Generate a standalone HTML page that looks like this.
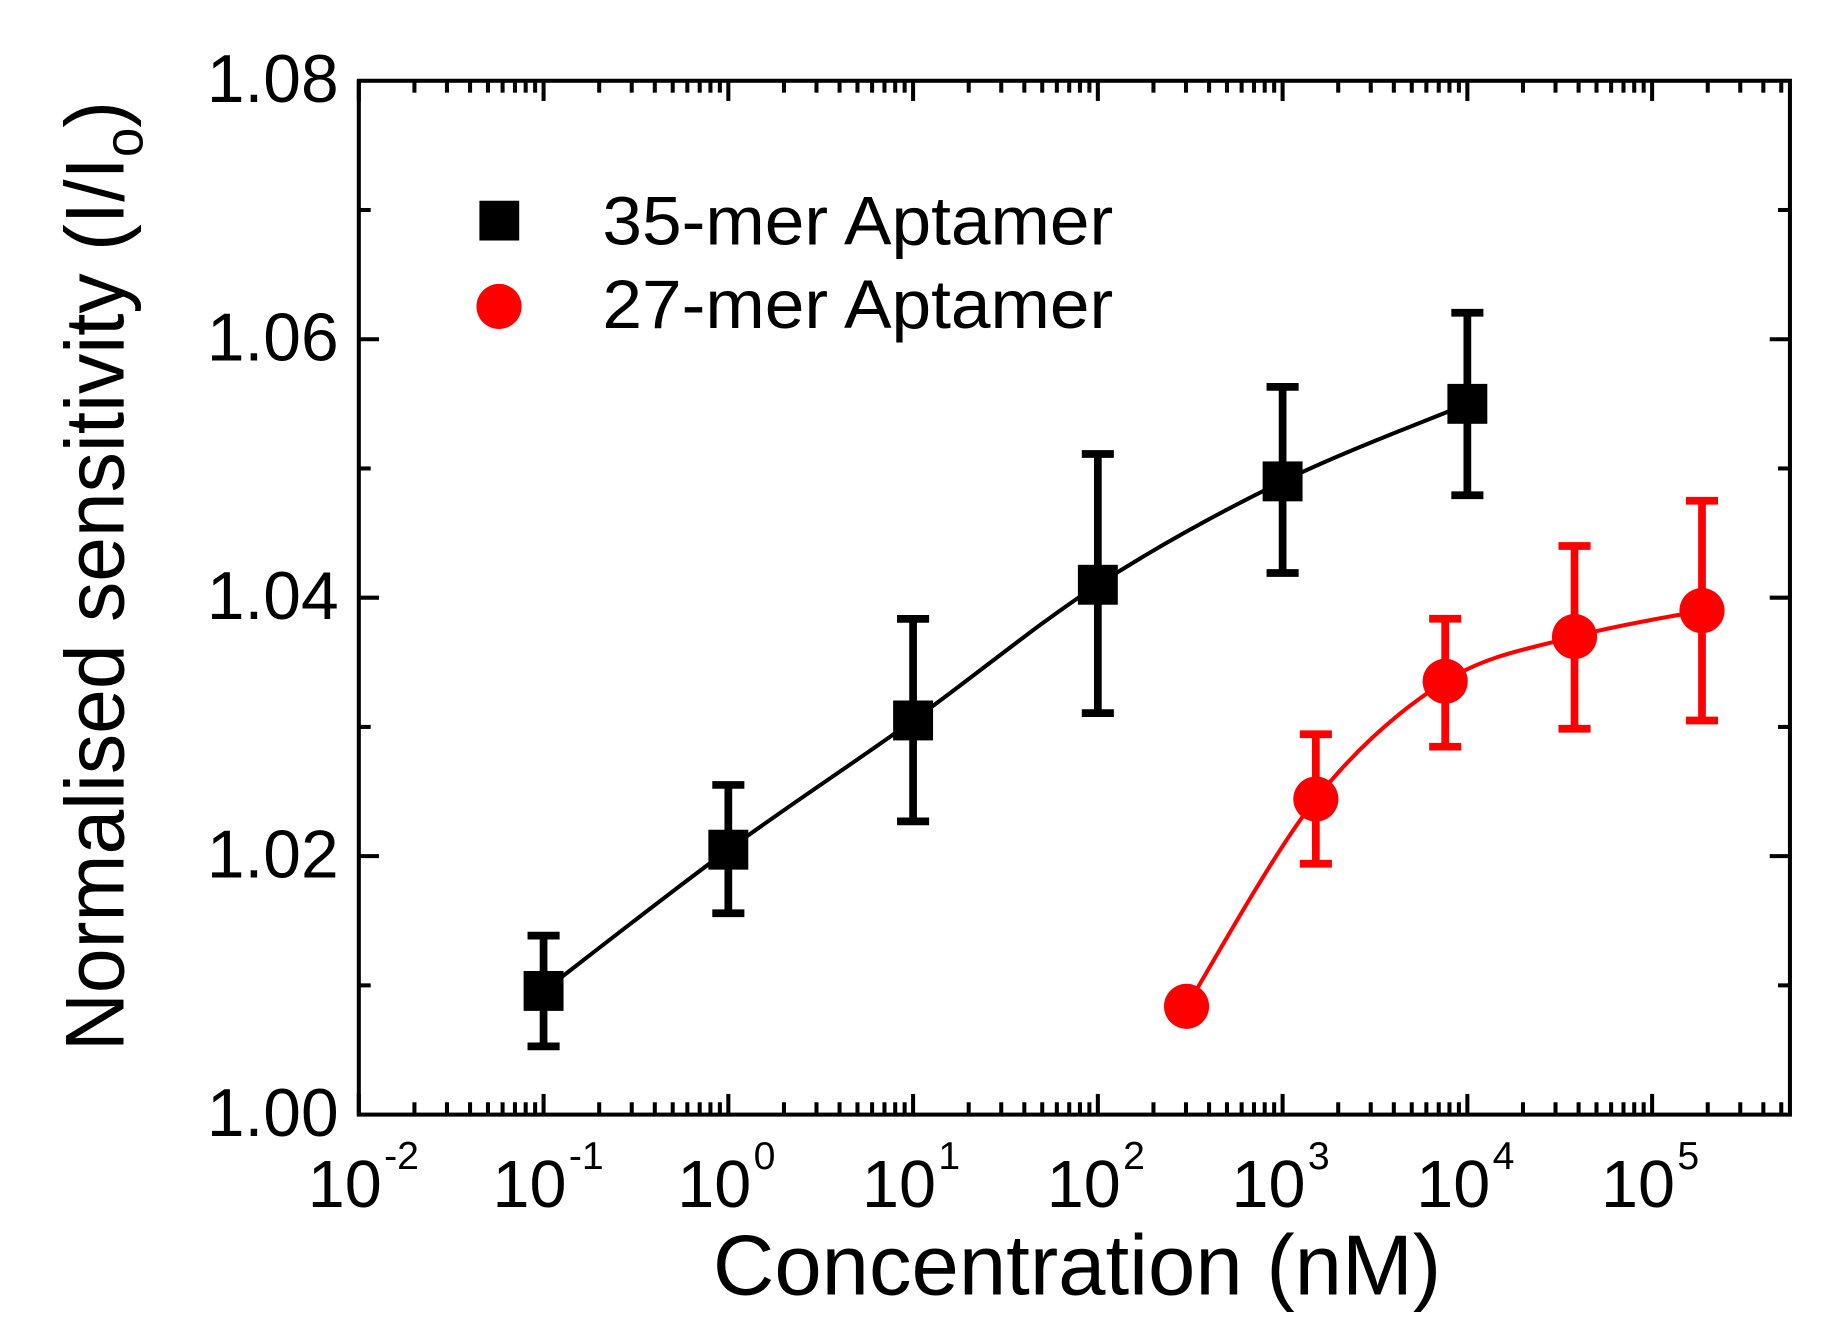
<!DOCTYPE html>
<html><head><meta charset="utf-8"><style>
html,body{margin:0;padding:0;background:#fff;}
svg{display:block;}
text{font-family:"Liberation Sans",Arial,sans-serif;fill:#000;}
</style></head><body>
<svg id="s" width="1844" height="1341" viewBox="0 0 1552 1129" preserveAspectRatio="none" xmlns="http://www.w3.org/2000/svg">
<g id="ticks" stroke="#000" stroke-width="3.4"></g>
<rect x="302" y="68" width="1204.5" height="870.4" fill="none" stroke="#000" stroke-width="3.4"/>
<g font-size="57" text-anchor="end">
<text x="285" y="956.5">1.00</text>
<text x="285" y="738.9">1.02</text>
<text x="285" y="521.3">1.04</text>
<text x="285" y="303.7">1.06</text>
<text x="285" y="86">1.08</text>
</g>
<g id="xl" font-size="56"></g>
<text x="600" y="1090" font-size="72" textLength="613" lengthAdjust="spacingAndGlyphs">Concentration (nM)</text>
<text transform="translate(104,885) rotate(-90)" font-size="70" textLength="800" lengthAdjust="spacingAndGlyphs">Normalised sensitivity (I/I<tspan font-size="46" dy="16">o</tspan><tspan dy="-16">)</tspan></text>
<rect x="403.5" y="169" width="33.5" height="33.5" fill="#000"/>
<text x="507" y="206" font-size="58" textLength="430" lengthAdjust="spacingAndGlyphs">35-mer Aptamer</text>
<circle cx="420" cy="258" r="19" fill="#f00"/>
<text x="507" y="276" font-size="58" textLength="430" lengthAdjust="spacingAndGlyphs">27-mer Aptamer</text>
<g id="pts"></g>
</svg>
<script>
var NS="http://www.w3.org/2000/svg";
function el(p,t,a){var e=document.createElementNS(NS,t);for(var k in a)e.setAttribute(k,a[k]);p.appendChild(e);return e;}
var x0=302,dec=155.5,yb=938.4,yu=217.6/0.02;
function X(l){return x0+(l+2)*dec;}
function Y(v){return yb-(v-1)*yu;}
var T=document.getElementById("ticks");
function ln(x1,y1,x2,y2){el(T,"line",{x1:x1,y1:y1,x2:x2,y2:y2});}
for(var d=-2;d<=5;d++){
 var xm=X(d);
 if(xm<=1506){ln(xm,938.4,xm,921);ln(xm,68,xm,85);}
 for(var m=2;m<=9;m++){var x=xm+Math.log10(m)*dec;if(x<1505){ln(x,938.4,x,928);ln(x,68,x,78);}}
}
for(var i=1;i<8;i++){var y=yb-i*108.8;var L=(i%2==0)?17:10;ln(302,y,302+L,y);ln(1506.5,y,1506.5-L,y);}
var XL=document.getElementById("xl");
var ex=["-2","-1","0","1","2","3","4","5"];
for(var d=0;d<8;d++){var x=X(d-2);var t=el(XL,"text",{x:x-43,y:1016});t.appendChild(document.createTextNode("10"));
var s=el(t,"tspan",{"font-size":"33",dy:"-32",dx:"2"});s.textContent=ex[d];}
var P=document.getElementById("pts");
function spline(pts){var d="M"+pts[0][0]+","+pts[0][1];
 for(var i=0;i<pts.length-1;i++){var p0=pts[Math.max(i-1,0)],p1=pts[i],p2=pts[i+1],p3=pts[Math.min(i+2,pts.length-1)];
 var c1=[p1[0]+(p2[0]-p0[0])/6,p1[1]+(p2[1]-p0[1])/6],c2=[p2[0]-(p3[0]-p1[0])/6,p2[1]-(p3[1]-p1[1])/6];
 d+=" C"+c1+" "+c2+" "+p2;}return d;}
var blk=[[-1,1.00957,1.01385,1.00528],[0,1.0205,1.02551,1.01558],[1,1.0305,1.03836,1.02269],[2,1.041,1.05112,1.03107],[3,1.049,1.05631,1.04191],[4,1.055,1.06205,1.04793]];
var red=[[2.48,1.00838],[3.18,1.02442,1.02943,1.01941],[3.88,1.03353,1.03837,1.02847],[4.58,1.03699,1.044,1.02986],[5.27,1.039,1.0475,1.0305]];
el(P,"path",{d:spline(blk.map(function(b){return [X(b[0]),Y(b[1])];})),fill:"none",stroke:"#000","stroke-width":3.4});
el(P,"path",{d:spline(red.map(function(b){return [X(b[0]),Y(b[1])];})),fill:"none",stroke:"#f00","stroke-width":3.4});
function eb(b,c){var x=X(b[0]);
 el(P,"line",{x1:x,y1:Y(b[2]),x2:x,y2:Y(b[3]),stroke:c,"stroke-width":6.5});
 el(P,"line",{x1:x-13.5,y1:Y(b[2]),x2:x+13.5,y2:Y(b[2]),stroke:c,"stroke-width":6.5});
 el(P,"line",{x1:x-13.5,y1:Y(b[3]),x2:x+13.5,y2:Y(b[3]),stroke:c,"stroke-width":6.5});}
blk.forEach(function(b){eb(b,"#000");el(P,"rect",{x:X(b[0])-16.8,y:Y(b[1])-16.8,width:33.6,height:33.6,fill:"#000"});});
red.forEach(function(b){if(b.length>2)eb(b,"#f00");el(P,"circle",{cx:X(b[0]),cy:Y(b[1]),r:19,fill:"#f00"});});
</script>
</body></html>
